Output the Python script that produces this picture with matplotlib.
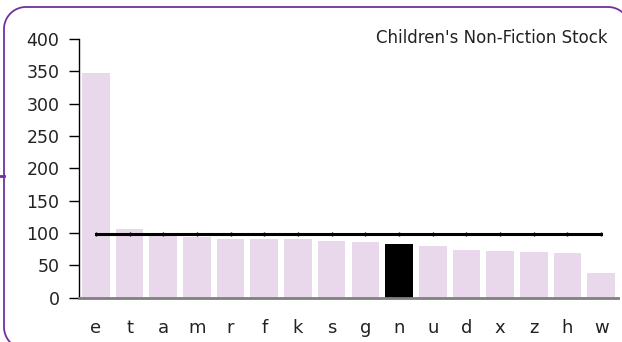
import numpy as np
import matplotlib.pyplot as plt
from matplotlib.lines import Line2D

# stock counts per shelf letter
letters = ["e", "t", "a", "m", "r", "f", "k", "s", "g", "n", "u", "d", "x", "z", "h", "w"]
stock = [347, 106, 99, 94, 91, 91, 91, 88, 86, 83, 80, 74, 72, 71, 69, 38]
average = 98
highlight = "n"

bar_colour = "#e9d8eb"
border_colour = "#7030a0"

W, H, DPI = 622, 342, 100
fig = plt.figure(figsize=(W / DPI, H / DPI), dpi=DPI)
ax = fig.add_axes([0.127, 0.1295, 0.8666, 0.7565])

colours = ["black" if l == highlight else bar_colour for l in letters]
x = range(len(letters))
ax.bar(x, stock, width=0.82, color=colours, zorder=2)
ax.plot(x, [average] * len(letters), color="black", lw=2.2, zorder=3,
        marker="|", markersize=3, markeredgewidth=1)

ax.set_xlim(-0.5, len(letters) - 0.5)
ax.set_ylim(0, 400)
ax.set_yticks(range(0, 401, 50))
ax.set_xticks(list(x))
ax.set_xticklabels(letters)

for side in ["top", "right"]:
    ax.spines[side].set_visible(False)
ax.spines["bottom"].set_color("#808080")
ax.spines["bottom"].set_linewidth(2)
ax.spines["left"].set_linewidth(1)
ax.tick_params(axis="y", length=7, width=1, pad=7, labelsize=12.5, colors="black",
               labelcolor="#222222")
ax.tick_params(axis="x", length=0, pad=15, labelsize=13, labelcolor="#222222")

fig.text(0.977, 0.89, "Children's Non-Fiction Stock", ha="right", va="center",
         fontsize=12, color="#222222")


def arc(cx, cy, r, a0, a1, n=30):
    # points on a circle, pixel units with y measured downwards
    t = np.radians(np.linspace(a0, a1, n))
    return cx + r * np.cos(t), cy - r * np.sin(t)


# rounded frame: only the part that falls inside the canvas
r, left, top, right = 22, 4, 7, 630
bl = arc(left + r, 349 - r, r, 223, 180)
tl = arc(left + r, top + r, r, 180, 90)
tr = arc(right - r, top + r, r, 90, 50)
fx = np.concatenate([bl[0], tl[0], tr[0]])
fy = np.concatenate([bl[1], tl[1], tr[1]])
fig.lines.append(Line2D(fx / DPI, (H - fy) / DPI, transform=fig.dpi_scale_trans,
                        color=border_colour, lw=1.3))
fig.lines.append(Line2D([0, left / DPI], [(H - 176) / DPI] * 2,
                        transform=fig.dpi_scale_trans, color=border_colour, lw=2))

fig.savefig("out.png", dpi=DPI)
